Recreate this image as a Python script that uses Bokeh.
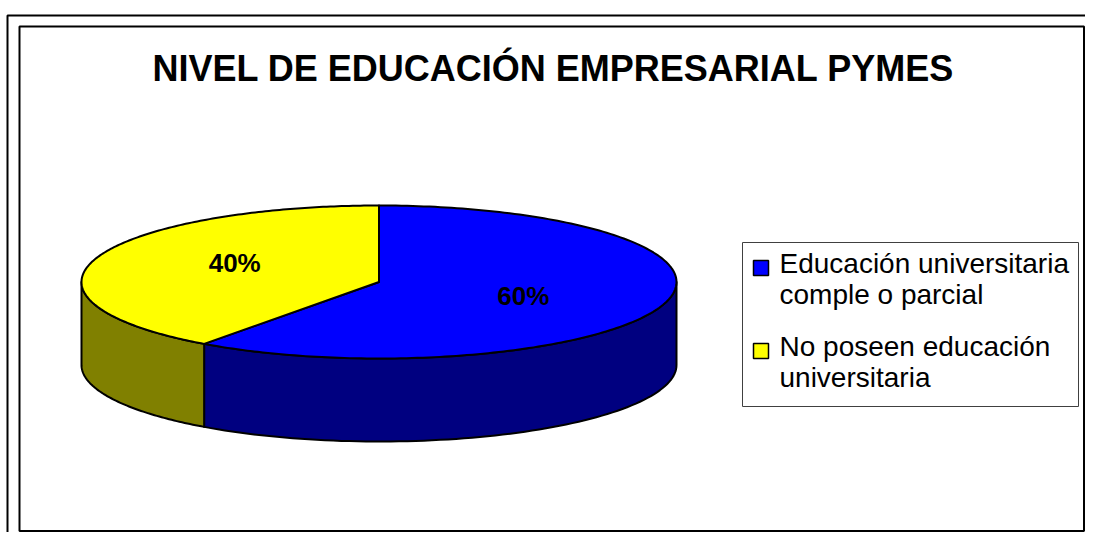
import numpy as np
from bokeh.plotting import figure
from bokeh.models import Range1d
from bokeh.core.properties import value
from bokeh.embed import file_html
from bokeh.resources import INLINE

# ---- data ----
title_text = "NIVEL DE EDUCACIÓN EMPRESARIAL PYMES"
categories = ["Educación universitaria comple o parcial", "No poseen educación universitaria"]
legend_lines = [["Educación universitaria", "comple o parcial"], ["No poseen educación", "universitaria"]]
values = [60, 40]
top_colors = ["#0000FF", "#FFFF00"]
side_colors = ["#000080", "#808000"]

FONT = value("Liberation Sans")
K = 0.40  # baseline correction (fraction of font size)

p = figure(width=1085, height=532, output_backend="svg", toolbar_location=None,
           x_range=Range1d(0, 1085), y_range=Range1d(532, 0), min_border=0)
p.axis.visible = False
p.grid.visible = False
p.outline_line_color = None
p.background_fill_color = "white"
p.border_fill_color = "white"

# frames
p.line([7, 7, 1093], [540, 15, 15], line_color="black", line_width=2)
p.quad(left=[19], right=[1083.5], top=[26], bottom=[530.5], fill_color="white",
       line_color="black", line_width=2)

# pie geometry
cx, cy, rx, ry, depth = 378.5, 281.5, 297.5, 76.5, 83

def pt(theta_deg, dy=0.0):
    t = np.radians(theta_deg)
    return cx + rx * np.sin(t), cy - ry * np.cos(t) + dy

total = float(sum(values))
angles = [0.0]
for v in values:
    angles.append(angles[-1] + 360.0 * v / total)

# side faces (front half: 90..270 deg clockwise from top)
side_xs, side_ys, side_c = [], [], []
for i in range(len(values)):
    a0, a1 = max(angles[i], 90.0), min(angles[i + 1], 270.0)
    if a1 <= a0:
        continue
    th = np.linspace(a0, a1, 80)
    tx, ty = pt(th)
    bx, by = pt(th[::-1], depth)
    side_xs.append(list(tx) + list(bx))
    side_ys.append(list(ty) + list(by))
    side_c.append(side_colors[i])
p.patches(side_xs, side_ys, fill_color=side_c, line_color="black", line_width=2,
          line_join="round")

# top faces
top_xs, top_ys = [], []
for i in range(len(values)):
    th = np.linspace(angles[i], angles[i + 1], 200)
    ex, ey = pt(th)
    top_xs.append([cx] + list(ex))
    top_ys.append([cy] + list(ey))
p.patches(top_xs, top_ys, fill_color=top_colors, line_color="black", line_width=2,
          line_join="round")

# percentage labels
lx, ly, lt = [], [], []
for i, v in enumerate(values):
    mid = np.radians((angles[i] + angles[i + 1]) / 2)
    lx.append(cx + 0.51 * rx * np.sin(mid))
    ly.append(cy - 0.70 * ry * np.cos(mid) - 1 + 8.5 - K * 26)
    lt.append(f"{v}%")
p.text(lx, ly, text=lt, text_font=FONT, text_font_style="bold", text_font_size="26px",
       text_align="center", text_baseline="alphabetic", text_color="black")

# title
p.text([553], [82 - K * 36], text=[title_text], text_font=FONT, text_font_style="bold",
       text_font_size="36px", text_align="center", text_baseline="alphabetic",
       text_color="black")

# legend
p.quad(left=[742], right=[1078], top=[242], bottom=[406], fill_color="white",
       line_color="#404040", line_width=1)
base0 = [274, 357]
p.quad(left=[753, 753], right=[768, 768], top=[b - 14 for b in base0],
       bottom=[b + 1 for b in base0], fill_color=top_colors, line_color="black", line_width=1.5)
tx_, ty_, tt_ = [], [], []
for i, lines in enumerate(legend_lines):
    for j, s in enumerate(lines):
        tx_.append(779); ty_.append(base0[i] + 31 * j - K * 28); tt_.append(s)
p.text(tx_, ty_, text=tt_, text_font=FONT, text_font_size="28px", text_align="left",
       text_baseline="alphabetic", text_color="black")

open("out.html", "w").write(file_html(p, INLINE))
